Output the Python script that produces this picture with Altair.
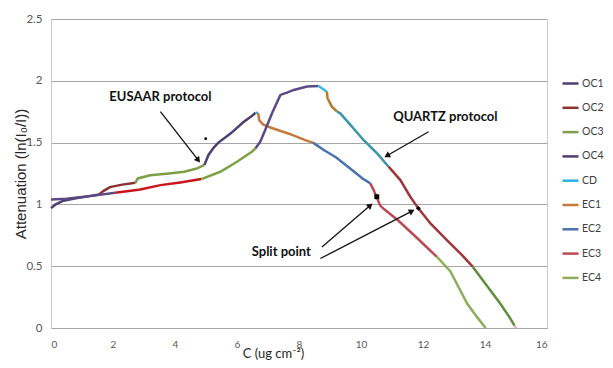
import altair as alt
import pandas as pd
import numpy as np

# ---------------- data ----------------
PHASES = ["OC1", "OC2", "OC3", "OC4", "CD", "EC1", "EC2", "EC3", "EC4"]
LEGEND_COLORS = ["#4E3F72", "#8C3232", "#7E9E48", "#4E3F72", "#2DB2E2",
                 "#C47A3E", "#4A72AC", "#BC4A55", "#8DAE5A"]

# EUSAAR protocol thermogram (x = C ug cm-2, y = attenuation)
EUS_X = {
    "OC1": [0.0, 0.15, 0.4, 0.8, 1.2, 1.55],
    "OC2": [1.55, 1.7, 1.9, 2.3, 2.72],
    "OC3": [2.72, 2.8, 3.2, 3.8, 4.3, 4.7, 4.95],
    "OC4": [4.95, 5.08, 5.25, 5.4, 5.8, 6.2, 6.5, 6.6],
    "CD": [6.6, 6.68],
    "EC1": [6.68, 6.72, 6.85, 7.1, 7.7, 8.2, 8.45],
    "EC2": [8.45, 8.8, 9.2, 9.65, 10.05, 10.3],
    "EC3": [10.3, 10.4, 10.5, 10.62, 10.75, 11.2, 11.8, 12.45],
    "EC4": [12.45, 12.88, 13.15, 13.42, 13.74, 14.02],
}
EUS_Y = {
    "OC1": [0.97, 1.0, 1.03, 1.05, 1.065, 1.08],
    "OC2": [1.08, 1.11, 1.14, 1.16, 1.175],
    "OC3": [1.175, 1.21, 1.235, 1.25, 1.265, 1.29, 1.32],
    "OC4": [1.32, 1.40, 1.46, 1.50, 1.575, 1.665, 1.72, 1.742],
    "CD": [1.742, 1.74],
    "EC1": [1.74, 1.68, 1.645, 1.62, 1.57, 1.52, 1.50],
    "EC2": [1.50, 1.44, 1.38, 1.29, 1.21, 1.17],
    "EC3": [1.17, 1.12, 1.062, 0.99, 0.96, 0.87, 0.73, 0.575],
    "EC4": [0.575, 0.46, 0.33, 0.20, 0.09, 0.0],
}

# QUARTZ protocol thermogram
QZ_X = {
    "OC1": [0.0, 0.5, 1.0, 1.5, 2.07],
    "OC2": [2.07, 2.88, 3.53, 4.17, 4.85],
    "OC3": [4.85, 5.46, 6.0, 6.48, 6.6],
    "OC4": [6.6, 6.75, 6.91, 7.13, 7.4, 7.61, 7.83, 8.26, 8.63],
    "CD": [8.63, 8.9],
    "EC1": [8.9, 8.92, 9.06, 9.23],
    "EC2": [9.23, 9.33, 9.66, 10.08, 10.52, 10.89],
    "EC3": [10.89, 11.27, 11.59, 11.85, 12.24, 12.77, 13.26, 13.61],
    "EC4": [13.61, 13.85, 14.17, 14.49, 14.82, 14.95],
    "END": [14.95, 15.0],
}
QZ_Y = {
    "OC1": [1.04, 1.045, 1.06, 1.075, 1.094],
    "OC2": [1.094, 1.12, 1.156, 1.178, 1.205],
    "OC3": [1.205, 1.264, 1.345, 1.426, 1.454],
    "OC4": [1.454, 1.507, 1.602, 1.737, 1.886, 1.904, 1.926, 1.953, 1.958],
    "CD": [1.958, 1.912],
    "EC1": [1.912, 1.859, 1.791, 1.75],
    "EC2": [1.75, 1.737, 1.643, 1.521, 1.413, 1.305],
    "EC3": [1.305, 1.197, 1.062, 0.968, 0.846, 0.711, 0.589, 0.494],
    "EC4": [0.494, 0.413, 0.306, 0.198, 0.076, 0.02],
    "END": [0.02, 0.0],
}
QZ_COLORS = {"OC1": "#5B4A85", "OC2": "#C8161E", "OC3": "#7DA242", "OC4": "#5B4A85",
             "CD": "#33BBE6", "EC1": "#B9782F", "EC2": "#3C95A8", "EC3": "#A2353A",
             "EC4": "#5F8F3A", "END": "#F2AFC0"}

X_TICKS = [0, 2, 4, 6, 8, 10, 12, 14, 16]
Y_TICKS = [0, 0.5, 1, 1.5, 2, 2.5]

LABELS = ["EUSAAR protocol", "QUARTZ protocol", "Split point"]
LABEL_X = [3.53, 12.72, 7.43]
LABEL_Y = [1.872, 1.71, 0.616]

ARROW_TAIL_X = [3.53, 12.18, 8.74, 8.69]
ARROW_TAIL_Y = [1.75, 1.588, 0.656, 0.562]
ARROW_HEAD_X = [4.79, 10.78, 10.35, 11.70]
ARROW_HEAD_Y = [1.345, 1.386, 1.002, 0.953]

SPLIT_X = [10.51, 11.85]
SPLIT_Y = [1.062, 0.968]
SPLIT_SHAPE = ["square", "diamond"]
DOT_X = [4.99]
DOT_Y = [1.532]

# ---------------- build tables ----------------
W, H = 496, 309
XMAX, YMAX = 16, 2.5

def table(xd, yd):
    rows = []
    for ph in xd:
        for i, (xv, yv) in enumerate(zip(xd[ph], yd[ph])):
            rows.append({"phase": ph, "x": xv, "y": yv, "i": i})
    return pd.DataFrame(rows)

eus = table(EUS_X, EUS_Y)
qz = table(QZ_X, QZ_Y)
qz["col"] = qz["phase"].map(QZ_COLORS)

ann = pd.DataFrame({"label": LABELS, "x": LABEL_X, "y": LABEL_Y})

sx, sy = W / XMAX, H / YMAX
arr = pd.DataFrame({"tx": ARROW_TAIL_X, "ty": ARROW_TAIL_Y,
                    "hx": ARROW_HEAD_X, "hy": ARROW_HEAD_Y})
dxp = (arr.hx - arr.tx) * sx
dyp = -(arr.hy - arr.ty) * sy  # screen (down positive)
length = np.hypot(dxp, dyp)
arr["angle"] = (np.degrees(np.arctan2(dxp, -dyp)) + 360) % 360
back = 3.0
arr["px"] = arr.hx - dxp / length * back / sx
arr["py"] = arr.hy + dyp / length * back / sy

split = pd.DataFrame({"x": SPLIT_X, "y": SPLIT_Y, "shape": SPLIT_SHAPE})
dot = pd.DataFrame({"x": DOT_X, "y": DOT_Y})

NARROW = "Lato, Roboto, sans-serif"
SANS = "Liberation Sans, Arial, sans-serif"

xs = alt.Scale(domain=[0, XMAX], nice=False, zero=False)
ys = alt.Scale(domain=[0, YMAX], nice=False)

x_axis = alt.Axis(values=X_TICKS, grid=False, ticks=False, domainColor="#A6A6A6",
                  labelFont=NARROW, labelFontSize=10, labelColor="#595959",
                  labelPadding=11, title="C (ug cm⁻²)", titleFont=NARROW,
                  titleFontSize=13, titleFontWeight="normal", titleColor="#262626",
                  titleX=222, titleY=29, titleBaseline="alphabetic", titleAlign="center")
y_axis = alt.Axis(values=Y_TICKS, grid=True, gridColor="#A6A6A6", ticks=False,
                  domainColor="#CCCCCC", labelFont=NARROW, labelFontSize=11.5,
                  labelColor="#595959", labelPadding=9, format="~g",
                  title="Attenuation  (ln(I₀/I))", titleFont=SANS, titleFontSize=15,
                  titleFontWeight="normal", titleColor="#262626", titleX=-26,
                  titleY=H / 2, titleAngle=270, titleAlign="center",
                  titleBaseline="alphabetic")

legend = alt.Legend(orient="none", legendX=510, legendY=55, title=None,
                    direction="vertical", symbolType="stroke", symbolSize=256,
                    symbolStrokeWidth=2.5, labelFont=NARROW, labelFontSize=10.5,
                    labelColor="#404040", labelOffset=2, rowPadding=9.3, padding=0)

eus_line = alt.Chart(eus).mark_line(strokeWidth=2.5).encode(
    x=alt.X("x:Q", scale=xs, axis=x_axis),
    y=alt.Y("y:Q", scale=ys, axis=y_axis),
    color=alt.Color("phase:N", scale=alt.Scale(domain=PHASES, range=LEGEND_COLORS),
                    sort=PHASES, legend=legend),
    order="i:Q",
)

qz_line = alt.Chart(qz).mark_line(strokeWidth=2.5).encode(
    x=alt.X("x:Q", scale=xs),
    y=alt.Y("y:Q", scale=ys),
    color=alt.Color("col:N", scale=None, legend=None),
    detail="phase:N",
    order="i:Q",
)

texts = alt.Chart(ann).mark_text(font=NARROW, fontSize=13, fontWeight="bold",
                                 color="#111111").encode(
    x=alt.X("x:Q", scale=xs), y=alt.Y("y:Q", scale=ys), text="label:N")

shafts = alt.Chart(arr).mark_rule(color="#111111", strokeWidth=1.3).encode(
    x=alt.X("tx:Q", scale=xs), y=alt.Y("ty:Q", scale=ys), x2="px:Q", y2="py:Q")

heads = alt.Chart(arr).mark_point(shape="triangle", filled=True, size=45,
                                  color="#111111", opacity=1).encode(
    x=alt.X("px:Q", scale=xs), y=alt.Y("py:Q", scale=ys), angle=alt.Angle("angle:Q", scale=None))

marks = alt.Chart(split).mark_point(filled=True, size=24, color="#000000",
                                    opacity=1).encode(
    x=alt.X("x:Q", scale=xs), y=alt.Y("y:Q", scale=ys),
    shape=alt.Shape("shape:N", scale=None, legend=None))

dots = alt.Chart(dot).mark_point(filled=True, size=8, color="#000000",
                                 opacity=1, shape="circle").encode(
    x=alt.X("x:Q", scale=xs), y=alt.Y("y:Q", scale=ys))

chart = alt.layer(eus_line, qz_line, shafts, heads, texts, marks, dots).resolve_scale(
    color="independent"
).properties(
    width=W, height=H,
    autosize=alt.AutoSizeParams(type="none"),
    padding={"left": 43, "top": 11, "right": 58, "bottom": 32},
).configure_view(stroke="#CCCCCC", strokeWidth=1)

chart.save("out.html", embed_options={"renderer": "svg", "actions": False})
